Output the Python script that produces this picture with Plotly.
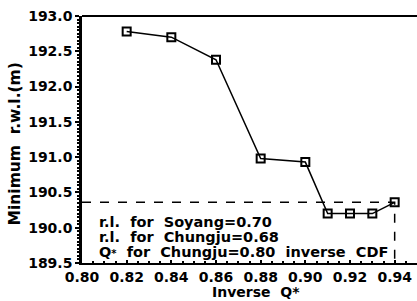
import plotly.graph_objects as go

inverse_q = [0.82, 0.84, 0.86, 0.88, 0.90, 0.91, 0.92, 0.93, 0.94]
min_rwl = [192.78, 192.70, 192.38, 190.98, 190.93, 190.20, 190.20, 190.20, 190.36]
x_ticks = [0.80, 0.82, 0.84, 0.86, 0.88, 0.90, 0.92, 0.94]
notes = ["r.l.  for  Soyang=0.70", "r.l.  for  Chungju=0.68",
         "Q<span style='font-size:10px'>*</span>  for  Chungju=0.80  inverse  CDF"]

x_min, x_max = 0.80, 0.95
y_min, y_max = 189.5, 193.0
x_ref, y_ref = inverse_q[-1], min_rwl[-1]

FONT = "DejaVu Sans"
fig = go.Figure()
fig.add_trace(go.Scatter(x=[x_min, x_ref, x_ref], y=[y_ref, y_ref, y_min], mode="lines",
                         line=dict(color="black", width=1.5, dash="dash"), showlegend=False,
                         hoverinfo="skip"))
fig.add_trace(go.Scatter(x=inverse_q, y=min_rwl, mode="lines+markers",
                         line=dict(color="black", width=1.5),
                         marker=dict(symbol="square-open", size=8, color="black", line=dict(width=2)),
                         showlegend=False))

for yy, t in zip([0.165, 0.104, 0.043], notes):
    fig.add_annotation(x=0.045, y=yy, xref="paper", yref="paper", text=t,
                       showarrow=False, xanchor="left", yanchor="middle",
                       font=dict(family=FONT, size=14.5, color="black", weight="bold"))

fig.add_annotation(x=0.52, y=-0.118, xref="paper", yref="paper", text="Inverse  Q*",
                   showarrow=False, xanchor="center", yanchor="middle",
                   font=dict(family=FONT, size=14, color="black", weight="bold"))
fig.add_annotation(x=-0.2, y=0.48, xref="paper", yref="paper", text="Minimum  r.w.l.(m)",
                   showarrow=False, xanchor="center", yanchor="middle", textangle=-90,
                   font=dict(family=FONT, size=15.5, color="black", weight="bold"))

fig.update_layout(
    width=417, height=301,
    margin=dict(l=82, r=0, t=16, b=38, autoexpand=False),
    paper_bgcolor="white", plot_bgcolor="white",
    font=dict(family=FONT, color="black", size=13, weight="bold"),
)
fig.update_xaxes(range=[x_min, x_max], tickvals=x_ticks,
                 tickformat=".2f", showgrid=False, zeroline=False, automargin=False,
                 showline=True, linecolor="black", linewidth=2,
                 ticks="inside", ticklen=3, tickwidth=1.5, tickcolor="black",
                 minor=dict(dtick=0.005, ticks="inside", ticklen=2, tickcolor="black"),
                 tickfont=dict(size=14, family=FONT, weight="bold"))
fig.update_yaxes(range=[y_min, y_max], dtick=0.5, tickformat=".1f", showgrid=False, zeroline=False,
                 automargin=False,
                 showline=True, linecolor="black", linewidth=2.5,
                 ticks="outside", ticklen=4, tickwidth=1.5, tickcolor="black",
                 minor=dict(dtick=0.05, ticks="outside", ticklen=2, tickcolor="black"),
                 tickfont=dict(size=14, family=FONT, weight="bold"))
fig.add_shape(type="line", xref="paper", yref="paper", x0=0, x1=1, y0=1, y1=1,
              line=dict(color="black", width=2))

fig.write_html("out.html", config={"displayModeBar": False},
               post_script="document.body.style.margin='0';document.body.style.overflow='hidden';")
